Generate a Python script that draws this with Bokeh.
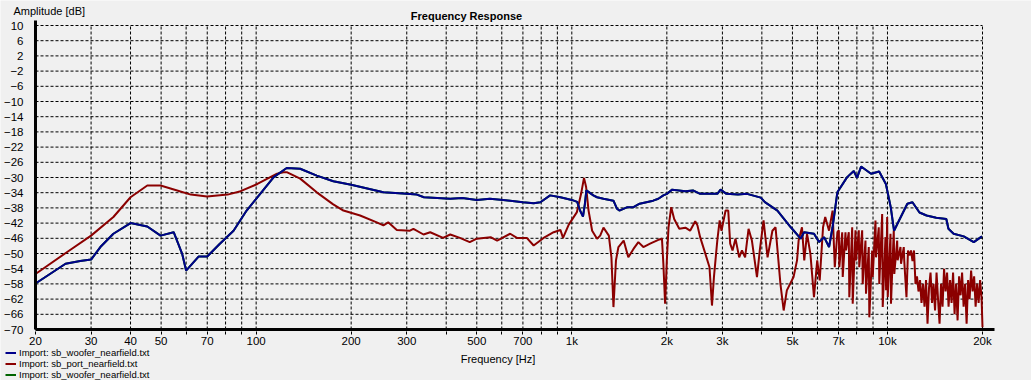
from bokeh.plotting import figure
from bokeh.models import Range1d, FixedTicker, Label, Legend, LegendItem
from bokeh.embed import file_html
from bokeh.resources import INLINE

# ---- data ----
woofer_freq = [20, 24.9, 27.7, 30, 32.1, 35.3, 40, 45.2, 49.8, 54.8, 58.3, 60, 65.7, 70, 76.6,
               84.8, 93.3, 100, 113.7, 125, 137.9, 155.6, 175.6, 200, 253, 300, 323, 340,
               412, 450, 500, 550, 606, 700, 757, 795, 854, 920, 1000, 1040, 1062, 1085,
               1100, 1112, 1170, 1202, 1260, 1355, 1390, 1415, 1500, 1568, 1640, 1810, 1880,
               1950, 2000, 2080, 2290, 2420, 2550, 2890, 2960, 3090, 3360, 3590, 3970, 4090,
               4480, 4940, 5310, 5440, 5852, 6070, 6300, 6530, 6700, 6938, 7452, 7820, 8010,
               8250, 8872, 9412, 9884, 10240, 10490, 10880, 11560, 12000, 12630, 13300, 14270,
               15360, 15600, 16200, 17440, 18770, 19920]
woofer_db = [-57.9, -52.7, -52.0, -51.6, -48.3, -44.8, -42.0, -42.9, -45.3, -44.4, -50.1, -54.5,
             -50.8, -50.8, -47.5, -44.0, -38.7, -35.6, -29.9, -27.5, -27.7, -29.5, -31.0, -31.9,
             -33.9, -34.3, -34.5, -35.2, -35.6, -35.4, -35.9, -35.6, -35.9, -36.5, -36.8, -36.5,
             -34.7, -35.2, -35.9, -36.4, -38.7, -40.3, -37.0, -33.4, -34.7, -35.2, -35.6, -36.1,
             -38.2, -38.7, -37.8, -37.8, -36.9, -36.1, -35.6, -34.7, -34.3, -33.2, -33.6, -33.4,
             -34.3, -34.3, -33.2, -34.3, -34.5, -34.3, -35.3, -36.5, -38.7, -43.1, -46.1, -44.4,
             -44.8, -47.0, -45.7, -48.3, -43.1, -33.9, -29.9, -28.3, -30.1, -27.1, -29.0, -28.4,
             -31.7, -37.8, -44.0, -41.3, -36.9, -36.5, -39.2, -40.0, -40.6, -40.9, -43.5, -44.8,
             -45.5, -47.0, -45.5]

port_freq = [20, 25.2, 30, 35.3, 40, 45.2, 49.8, 56.2, 62.1, 69.9, 81.2, 89.3, 100.9, 116.5,
             122, 125, 137.9, 155.6, 175, 189, 213.5, 241, 253, 262, 279, 307, 315, 339, 356,
             391, 412, 442, 475, 500, 553, 580, 638, 670, 720, 757, 814, 876, 920, 938, 978,
             1038, 1070, 1093, 1110, 1130, 1160, 1202, 1230, 1260, 1310, 1335, 1355, 1380,
             1405, 1460, 1510, 1568, 1625, 1685, 1770, 1880, 1930, 1950, 1975, 2000, 2025,
             2065, 2110, 2190, 2290, 2370, 2460, 2500, 2550, 2650, 2730, 2780, 2820, 2890,
             2940, 2980, 3070, 3130, 3175, 3230, 3300, 3390, 3460, 3540, 3630, 3720, 3860,
             3940, 4050, 4170, 4320, 4420, 4580, 4690, 4800, 5040, 5170, 5230, 5360, 5450,
             5560, 5700, 5850, 5990, 6100, 6250, 6350, 6530, 6700, 6810, 6940,
             7012, 7040, 7188, 7215, 7362, 7390, 7541, 7570, 7731, 7760, 7919, 7950, 8112,
             8140, 8314, 8345, 8517, 8550, 8725, 8760, 8943, 8980, 9161, 9200, 9384, 9420,
             9620, 9660, 9854, 9900, 9978, 10020, 10222, 10260, 10470, 10510, 10733, 10770,
             10995, 11040, 11262, 11300,
             11486, 11614, 11742, 11872, 12002, 12134, 12268, 12403, 12540, 12679, 12818,
             12960, 13102, 13247, 13393, 13541, 13690, 13841, 13993, 14148, 14304, 14461,
             14621, 14782, 14945, 15110, 15276, 15445, 15615, 15787, 15961, 16137, 16315,
             16495, 16676, 16860, 17046, 17234, 17424, 17616, 17810, 18006, 18205, 18405,
             18608, 18814, 19021, 19230, 19442, 19656, 19870, 20000]
port_db = [-55.4, -49.6, -45.3, -40.4, -35.2, -32.1, -32.1, -33.4, -34.5, -35.0, -34.5, -33.6,
           -31.7, -29.0, -28.6, -28.6, -30.3, -33.9, -37.0, -38.7, -40.0, -41.8, -42.6, -41.8,
           -43.8, -44.0, -43.5, -45.0, -44.4, -45.9, -45.0, -45.9, -47.0, -46.1, -45.7, -46.6,
           -44.8, -45.9, -45.9, -47.9, -45.9, -44.4, -43.8, -45.9, -42.4, -39.1, -34.3, -30.1,
           -32.5, -38.7, -44.0, -46.1, -45.3, -43.2, -45.3, -51.0, -64.1, -51.8, -48.3, -46.6,
           -51.0, -48.8, -47.0, -48.3, -47.4, -46.4, -46.1, -52.7, -63.2, -51.8, -43.1, -37.8,
           -40.9, -43.5, -43.2, -44.0, -41.5, -42.6, -45.7, -50.1, -53.6, -63.7, -56.2, -46.6,
           -41.3, -44.0, -38.7, -38.7, -47.4, -49.2, -46.1, -51.0, -49.2, -51.0, -43.5, -46.6,
           -56.2, -49.2, -41.3, -51.0, -44.0, -43.1, -58.0, -65.0, -59.7, -56.2, -51.8, -46.6,
           -43.1, -51.8, -44.8, -50.1, -61.5, -51.8, -57.1, -43.1, -40.4, -44.0, -38.7, -53.6,
           -44.4,
           -43.9, -53.6, -44.4, -56.2, -44.4, -49.2, -44.4, -61.5, -43.1, -63.2, -43.9, -51.8,
           -43.9, -53.6, -43.9, -58.0, -46.6, -60.6, -48.3, -66.8, -49.2, -56.2, -41.3, -51.0,
           -43.1, -58.0, -39.6, -64.1, -45.7, -59.7, -40.4, -61.5, -44.8, -63.2, -43.9, -55.4,
           -46.6, -51.8, -48.3, -52.7, -48.3, -51.8,
           -61.5, -49.2, -50.5, -49.2, -52.0, -49.2, -58.0, -56.0, -60.0, -57.0, -63.0,
           -58.0, -64.0, -57.0, -68.5, -59.0, -55.0, -63.0, -58.0, -65.0, -55.0, -62.0,
           -68.5, -58.0, -64.0, -54.0, -60.0, -55.0, -64.0, -57.0, -63.0, -55.0, -66.0,
           -58.0, -67.6, -56.0, -61.0, -55.0, -64.0, -58.0, -68.5, -57.0, -62.0, -54.5,
           -60.0, -56.0, -64.0, -58.0, -63.0, -57.0, -62.0, -69.4]
assert len(port_freq) == len(port_db)
assert len(woofer_freq) == len(woofer_db)

y_ticks = list(range(-70, 11, 4))
x_grid = [20, 30, 40, 50, 60, 70, 80, 90, 100, 200, 300, 400, 500, 600, 700, 800, 900,
          1000, 2000, 3000, 4000, 5000, 6000, 7000, 8000, 9000, 10000, 20000]
x_labels = {20: "20", 30: "30", 40: "40", 50: "50", 70: "70", 100: "100", 200: "200",
            300: "300", 500: "500", 700: "700", 1000: "1k", 2000: "2k", 3000: "3k",
            5000: "5k", 7000: "7k", 10000: "10k", 20000: "20k"}

series_names = ["Import: sb_woofer_nearfield.txt", "Import: sb_port_nearfield.txt",
                "Import: sb_woofer_nearfield.txt"]
series_colors = ["#00008B", "#8B0000", "#006400"]

X_MIN, X_MAX = 20, 20000
Y_MIN, Y_MAX = -70, 10

# ---- layout (pixels inside the canvas) ----
W, H = 1031, 380
PLOT_L, PLOT_R, PLOT_T, PLOT_B = 35, 982, 25, 329
FONT = "Liberation Sans"
BG = "#F0F0F0"

px_per_dec = (PLOT_R - PLOT_L) / 3.0
px_per_db = (PLOT_B - PLOT_T) / float(Y_MAX - Y_MIN)
x_start = X_MIN * 10 ** (-PLOT_L / px_per_dec)
x_end = X_MAX * 10 ** ((W - PLOT_R) / px_per_dec)
y_end = Y_MAX + PLOT_T / px_per_db
y_start = Y_MIN - (H - PLOT_B) / px_per_db

p = figure(width=W, height=H, x_axis_type="log",
           x_range=Range1d(x_start, x_end), y_range=Range1d(y_start, y_end),
           output_backend="svg", toolbar_location=None,
           min_border=0, min_border_left=0, min_border_right=0,
           min_border_top=0, min_border_bottom=0,
           background_fill_color=BG, border_fill_color=BG, outline_line_color=None)
p.xgrid.visible = False
p.ygrid.visible = False

# axes, pinned to the data area
p.xaxis.fixed_location = Y_MIN
p.yaxis.fixed_location = X_MIN
p.xaxis.bounds = (X_MIN, 21800)
p.yaxis.bounds = (Y_MIN, 11.3)
p.xaxis.ticker = FixedTicker(ticks=x_grid)
p.xaxis.major_label_overrides = {t: x_labels.get(t, "") for t in x_grid}
p.yaxis.ticker = FixedTicker(ticks=y_ticks)
for ax in (p.xaxis[0], p.yaxis[0]):
    ax.axis_line_width = 3
    ax.axis_line_color = "black"
    ax.minor_tick_line_color = None
    ax.major_label_text_font = FONT
    ax.major_label_text_font_size = "11.5px"
    ax.major_label_text_color = "black"
p.xaxis.major_tick_out = 5
p.xaxis.major_tick_in = 0
p.xaxis.major_tick_line_color = "black"
p.xaxis.major_tick_line_dash = "3 2"
p.xaxis.major_label_standoff = 0
p.yaxis.major_tick_out = 0
p.yaxis.major_tick_in = 0
p.yaxis.major_label_standoff = 12

# dashed grid inside the data area
p.segment(x0=x_grid, y0=[Y_MIN] * len(x_grid), x1=x_grid, y1=[Y_MAX] * len(x_grid),
          line_color="black", line_width=1, line_dash="3 2")
p.segment(x0=[X_MIN] * len(y_ticks), y0=y_ticks, x1=[X_MAX] * len(y_ticks), y1=y_ticks,
          line_color="black", line_width=1, line_dash="3 2")

# curves
r_port = p.line(port_freq, port_db, line_color=series_colors[1], line_width=2)
r_green = p.line(woofer_freq, woofer_db, line_color=series_colors[2], line_width=2)
r_woofer = p.line(woofer_freq, woofer_db, line_color=series_colors[0], line_width=2)

legend = Legend(items=[LegendItem(label=series_names[0], renderers=[r_woofer]),
                       LegendItem(label=series_names[1], renderers=[r_port]),
                       LegendItem(label=series_names[2], renderers=[r_green])],
                location=(5, 0), padding=0, spacing=0, margin=0,
                glyph_width=11, glyph_height=11, label_height=11, label_standoff=3,
                label_text_font=FONT, label_text_font_size="9.5px",
                label_text_color="black", label_text_line_height=1.0,
                background_fill_alpha=0, border_line_color=None)
p.add_layout(legend, "center")

# texts (screen units from the canvas' bottom-left)
p.add_layout(Label(x=466, y=H - 15, x_units="screen", y_units="screen", text="Frequency Response",
                   text_font=FONT, text_font_size="11px", text_font_style="bold",
                   text_align="center", text_baseline="alphabetic", text_color="black"))
p.add_layout(Label(x=13, y=H - 10.5, x_units="screen", y_units="screen", text="Amplitude [dB]",
                   text_font=FONT, text_font_size="11px",
                   text_align="left", text_baseline="alphabetic", text_color="black"))
p.add_layout(Label(x=497.5, y=H - 358.5, x_units="screen", y_units="screen", text="Frequency [Hz]",
                   text_font=FONT, text_font_size="11px",
                   text_align="center", text_baseline="middle", text_color="black"))

open("out.html", "w").write(file_html(p, INLINE))
